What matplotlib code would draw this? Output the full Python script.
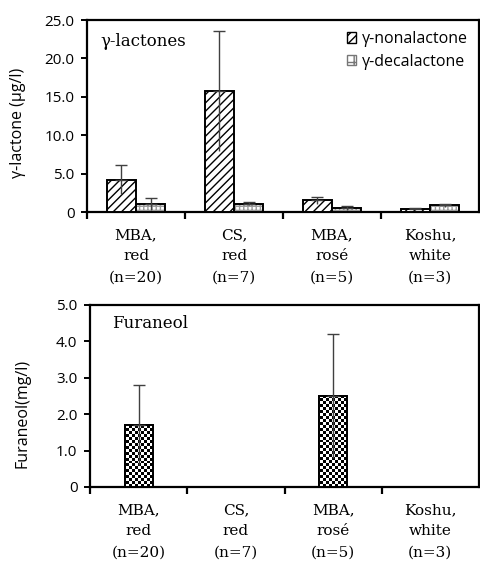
import numpy as np
import matplotlib
matplotlib.use("Agg")
import matplotlib.pyplot as plt
from matplotlib.patches import Patch

categories = ["MBA,\nred\n(n=20)", "CS,\nred\n(n=7)", "MBA,\nrosé\n(n=5)", "Koshu,\nwhite\n(n=3)"]
nona_mean = [4.2, 15.8, 1.5, 0.4]
nona_err = [1.9, 7.8, 0.45, 0.1]
deca_mean = [1.05, 1.1, 0.5, 0.85]
deca_err = [0.75, 0.2, 0.3, 0.15]
furaneol_mean = [1.7, np.nan, 2.5, np.nan]
furaneol_err = [1.1, np.nan, 1.7, np.nan]
top_yticks = [0, 5, 10, 15, 20, 25]
top_yticklabels = ["0", "5.0", "10.0", "15.0", "20.0", "25.0"]
bot_yticks = [0, 1, 2, 3, 4, 5]
bot_yticklabels = ["0", "1.0", "2.0", "3.0", "4.0", "5.0"]

SANS = "Open Sans"
SERIF = "DejaVu Serif"
ERRC = "#404040"

fig = plt.figure(figsize=(4.81, 5.62), dpi=100)
W, H = 481, 562
ax1 = fig.add_axes([87 / W, 1 - 212 / H, 392 / W, 192 / H])
ax2 = fig.add_axes([90 / W, 1 - 487 / H, 389 / W, 182 / H])

x = np.arange(len(categories))


def style_axes(ax, yticks, ylabels, ymax):
    ax.set_xlim(-0.5, 3.5)
    ax.set_ylim(0, ymax)
    for s in ax.spines.values():
        s.set_linewidth(1.6)
    ax.set_yticks(yticks)
    ax.set_yticklabels(ylabels, fontfamily=SANS, fontsize=11)
    ax.tick_params(axis="y", direction="out", length=4, width=1.4, pad=5)
    ax.set_xticks([-0.5, 0.5, 1.5, 2.5])
    ax.set_xticklabels([])
    ax.tick_params(axis="x", direction="out", length=5, width=1.6)
    for xi, lab in zip(x, categories):
        ax.annotate(lab, xy=(xi, 0), xycoords=ax.get_xaxis_transform(),
                    xytext=(0, -11.5), textcoords="offset points", ha="center",
                    va="top", fontfamily=SERIF, fontsize=11, linespacing=1.68)


def errbars(ax, xs, means, errs):
    for xi, m, e in zip(xs, means, errs):
        if np.isnan(m):
            continue
        ax.errorbar([xi], [m], yerr=[[0], [e]], fmt="none", ecolor=ERRC,
                    elinewidth=1.0, capsize=4, capthick=1.0, zorder=5)
        ax.errorbar([xi], [m], yerr=[[e], [0]], fmt="none", ecolor=ERRC,
                    elinewidth=1.0, capsize=0, zorder=5)


# ---- top chart
bw = 0.296
style_axes(ax1, top_yticks, top_yticklabels, 25)
ax1.bar(x - bw / 2, nona_mean, bw, facecolor="white", edgecolor="black",
        linewidth=1.4, hatch="////", zorder=3)
ax1.bar(x + bw / 2, deca_mean, bw, facecolor="white", edgecolor="#9a9a9a",
        linewidth=0, hatch="++++", zorder=3)
ax1.bar(x + bw / 2, deca_mean, bw, facecolor="none", edgecolor="black",
        linewidth=1.4, zorder=4)
errbars(ax1, x - bw / 2, nona_mean, nona_err)
errbars(ax1, x + bw / 2, deca_mean, deca_err)
ax1.text((100 - 87) / 392, 0.89, "γ-lactones", transform=ax1.transAxes,
         fontfamily=SERIF, fontsize=12, va="center", ha="left")
h1 = Patch(facecolor="white", edgecolor="black", hatch="////", linewidth=1.0)
h2 = Patch(facecolor="white", edgecolor="#777777", hatch="++", linewidth=1.0)
leg = ax1.legend([h1, h2], ["γ-nonalactone", "γ-decalactone"], loc="upper right",
                 bbox_to_anchor=(1.0, 1.0), frameon=False,
                 prop={"family": SANS, "size": 11.5}, handlelength=0.6,
                 handleheight=0.6, handletextpad=0.35, labelspacing=0.4,
                 borderaxespad=0.3)
fig.text(18 / W, 1 - 123 / H, "γ-lactone (μg/l)", rotation=90, ha="center",
         va="center", fontfamily=SANS, fontsize=11.5)

# ---- bottom chart
bw2 = 0.29
style_axes(ax2, bot_yticks, bot_yticklabels, 5)
bars = ax2.bar(x, furaneol_mean, bw2, facecolor="white", edgecolor="black",
               linewidth=1.4, zorder=3)
# checkerboard fill clipped to bars
ny, nx = 62, 132
checker = (np.add.outer(np.arange(ny), np.arange(nx)) % 2).astype(float)
for b in bars:
    if np.isnan(b.get_height()):
        continue
    im = ax2.imshow(checker, cmap="gray", vmin=0, vmax=1, extent=(-0.5, 3.5, 0, 5),
                    aspect="auto", interpolation="nearest", zorder=3.5)
    im.set_clip_path(b)
ax2.bar(x, furaneol_mean, bw2, facecolor="none", edgecolor="black",
        linewidth=1.4, zorder=4)
errbars(ax2, x, furaneol_mean, furaneol_err)
ax2.set_xlim(-0.5, 3.5)
ax2.set_ylim(0, 5)
ax2.text((112 - 90) / 389, 0.9, "Furaneol", transform=ax2.transAxes,
         fontfamily=SERIF, fontsize=12, va="center", ha="left")
fig.text(23 / W, 1 - 413 / H, "Furaneol(mg/l)", rotation=90, ha="center",
         va="center", fontfamily=SANS, fontsize=11.5)

fig.savefig("out.png", dpi=100)
